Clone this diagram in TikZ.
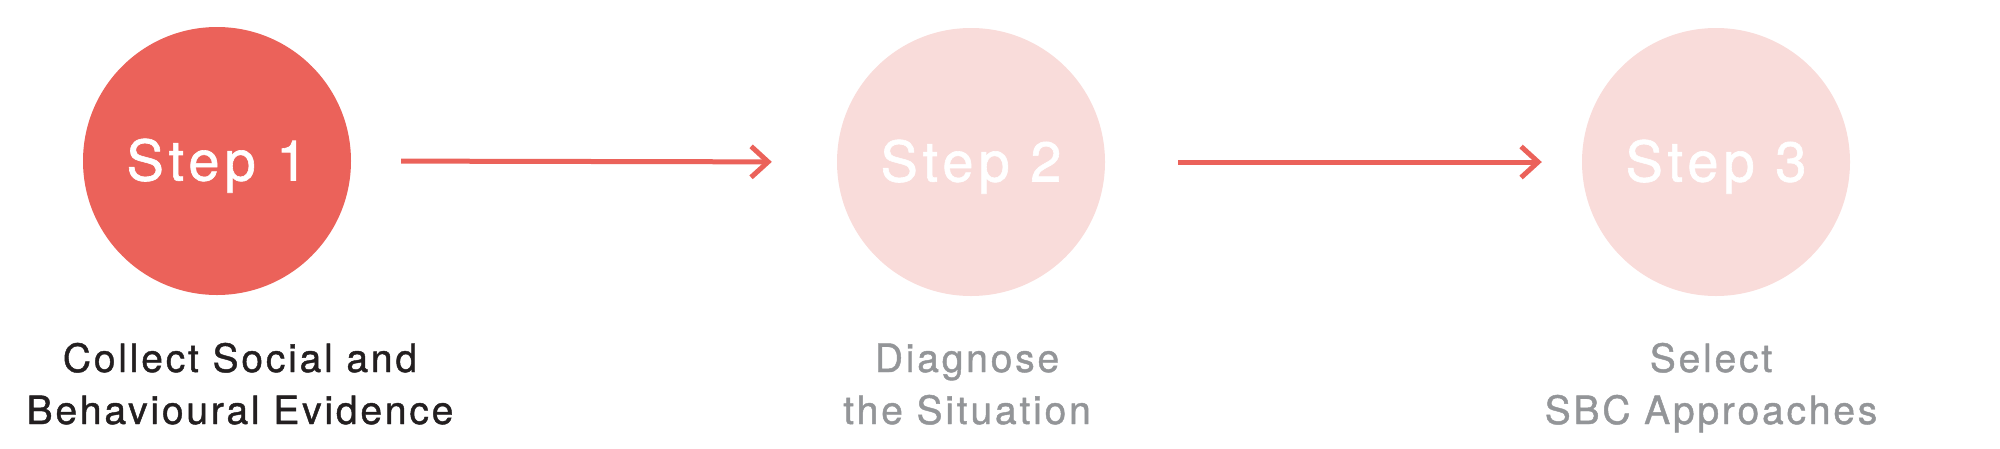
\documentclass[tikz,border=0pt]{standalone}
\usepackage{fontspec}
\usetikzlibrary{arrows.meta}
\newfontfamily\labelfont[LetterSpace=7.2,FakeBold=1.1]{TeX Gyre Heros}
\newfontfamily\stepfont[LetterSpace=9,FakeBold=1.1]{TeX Gyre Heros}
\definecolor{stepred}{HTML}{EB625A}
\definecolor{steppink}{HTML}{F9DCDA}
\definecolor{darktext}{HTML}{231F20}
\definecolor{graytext}{HTML}{939598}
\tikzset{
  stepcircle/.style={circle, minimum size=268pt, inner sep=0pt, draw=none,
    text=white, font=\stepfont\fontsize{56}{60}\selectfont,
    text height=39pt, text depth=0pt},
  activecircle/.style={stepcircle, fill=stepred},
  futurecircle/.style={stepcircle, fill=steppink},
  labelline/.style={inner sep=0pt, anchor=base, font=\labelfont\fontsize{39}{52}\selectfont},
  flowarrow/.style={draw=stepred, line width=5pt,
    -{Straight Barb[length=17pt,width=31pt,line width=5pt]}},
}
\begin{document}
\begin{tikzpicture}[x=1pt,y=-1pt]
\useasboundingbox (0,0) rectangle (2000,448);
\node[activecircle] (c1) at (217,161) {Step 1};
\node[futurecircle] (c2) at (971,162) {Step 2};
\node[futurecircle] (c3) at (1716,162) {Step 3};
\draw[flowarrow, shorten <=50pt, shorten >=65pt] (c1.east) -- (c2.west);
\draw[flowarrow, shorten <=73pt, shorten >=40pt] (c2.east) -- (c3.west);
\node[labelline, text=darktext] (l1a) at (240,372) {Collect Social and};
\node[labelline, text=darktext] (l1b) at (240,424) {Behavioural Evidence};
\node[labelline, text=graytext] (l2a) at (967,372) {Diagnose};
\node[labelline, text=graytext] (l2b) at (967,424) {the Situation};
\node[labelline, text=graytext] (l3a) at (1711,372) {Select};
\node[labelline, text=graytext] (l3b) at (1711,424) {SBC Approaches};
\end{tikzpicture}
\end{document}
